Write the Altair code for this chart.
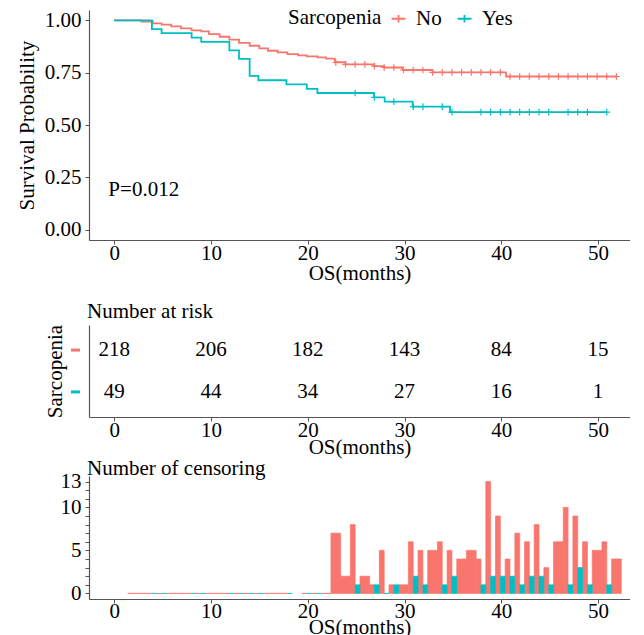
import altair as alt
import pandas as pd

FONT = "Liberation Serif"
FS = 21
groups = ["No", "Yes"]
colors = ["#F8766D", "#00BFC4"]

# Kaplan-Meier step change points (time, survival)
no_times = [0, 2.8, 4.0, 4.9, 5.9, 6.9, 8.0, 9.0, 9.8, 10.9, 11.9, 12.9, 14.0, 15.0, 15.9,
            16.9, 17.9, 19.0, 19.9, 21.0, 21.9, 22.8, 23.9, 26.8, 27.9, 29.8, 32.9, 40.5, 51.9]
no_surv = [1.0, 0.995, 0.986, 0.980, 0.972, 0.962, 0.953, 0.948, 0.935, 0.922, 0.908, 0.893,
           0.879, 0.866, 0.855, 0.847, 0.839, 0.833, 0.828, 0.823, 0.817, 0.800, 0.790, 0.782,
           0.775, 0.763, 0.752, 0.732, 0.732]
yes_times = [0, 3.9, 4.9, 8.0, 9.0, 11.9, 12.9, 14.0, 14.9, 17.8, 19.9, 21.0, 26.85, 27.95,
             30.85, 34.7, 50.9]
yes_surv = [1.0, 0.959, 0.939, 0.918, 0.898, 0.857, 0.816, 0.735, 0.714, 0.694, 0.673, 0.653,
            0.632, 0.612, 0.588, 0.562, 0.562]

# censoring times (crosses on the curves)
no_cens_times = [22.9, 23.9, 24.9, 25.9, 26.9, 27.9, 28.9, 29.9, 30.9, 31.9, 32.9, 33.9, 34.9,
                 35.9, 36.9, 37.9, 38.9, 39.9, 40.9, 41.9, 42.9, 43.9, 44.9, 45.9, 46.9, 47.9,
                 48.9, 49.9, 50.9, 51.9]
yes_cens_times = [24.9, 26.9, 28.9, 30.9, 31.9, 33.9, 34.9, 37.9, 38.9, 39.9, 40.9, 41.9, 42.9,
                  43.9, 44.9, 46.9, 47.9, 48.9, 50.9]

# number at risk
risk_times = [0, 10, 20, 30, 40, 50]
risk_no = [218, 206, 182, 143, 84, 15]
risk_yes = [49, 44, 34, 27, 16, 1]

# number of censoring per time
no_ncens_time = [1.9, 2.9, 3.9, 4.9, 5.9, 6.9, 7.9, 8.9, 9.9, 10.9, 11.9, 12.9, 13.9, 14.9, 15.9,
                 16.9, 17.9, 19.9, 20.9, 21.9, 22.9, 23.9, 24.9, 25.9, 26.9, 27.9, 28.9, 29.9,
                 30.9, 31.9, 32.9, 33.9, 34.9, 35.9, 36.9, 37.9, 38.9, 39.9, 40.9, 41.9, 42.9,
                 43.9, 44.9, 45.9, 46.9, 47.9, 48.9, 49.9, 50.9, 51.9]
no_ncens = [0, 0, 0, 0, 0, 0, 0, 0, 0, 0, 0, 0, 0, 0, 0, 0, 0, 0, 0, 0,
            7, 2, 8, 2, 1, 5, 1, 1, 6, 5, 5, 6, 5, 4, 5, 4, 13, 9, 4, 7, 6, 8, 3, 6, 10, 9, 6, 5, 6, 4]
yes_ncens_time = [3.9, 4.9, 7.9, 8.9, 11.9, 12.9, 13.9, 14.9, 17.9, 19.9, 20.9, 24.9, 26.9, 27.9,
                  28.9, 30.9, 31.9, 33.9, 34.9, 37.9, 38.9, 39.9, 40.9, 41.9, 42.9, 43.9, 44.9,
                  46.9, 47.9, 48.9, 50.9]
yes_ncens = [0, 0, 0, 0, 0, 0, 0, 0, 0, 0, 0,
             1, 1, 0, 1, 2, 1, 1, 2, 1, 2, 2, 2, 1, 2, 2, 1, 1, 3, 1, 1]

XDOM = [-2.6, 53.3]
color_scale = alt.Scale(domain=groups, range=colors)


def step_lookup(times, surv, t):
    s = surv[0]
    for ti, si in zip(times, surv):
        if ti <= t:
            s = si
    return s


curve = pd.DataFrame(
    [{"time": t, "surv": s, "group": "No"} for t, s in zip(no_times, no_surv)]
    + [{"time": t, "surv": s, "group": "Yes"} for t, s in zip(yes_times, yes_surv)]
)
cens = pd.DataFrame(
    [{"time": t, "surv": step_lookup(no_times, no_surv, t), "group": "No"} for t in no_cens_times]
    + [{"time": t, "surv": step_lookup(yes_times, yes_surv, t), "group": "Yes"} for t in yes_cens_times]
)
risk = pd.DataFrame(
    [{"time": t, "n": n, "group": "No"} for t, n in zip(risk_times, risk_no)]
    + [{"time": t, "n": n, "group": "Yes"} for t, n in zip(risk_times, risk_yes)]
)

# dodge bars that share a time
yes_set = set(yes_ncens_time)
no_set = set(no_ncens_time)
rows = []
for t, n in zip(no_ncens_time, no_ncens):
    if t in yes_set:
        rows.append({"x0": t - 0.5, "x1": t, "n": n, "group": "No", "o": 0})
    else:
        rows.append({"x0": t - 0.5, "x1": t + 0.5, "n": n, "group": "No", "o": 0})
for t, n in zip(yes_ncens_time, yes_ncens):
    if t in no_set:
        rows.append({"x0": t, "x1": t + 0.5, "n": n, "group": "Yes", "o": 1})
    else:
        rows.append({"x0": t - 0.5, "x1": t + 0.5, "n": n, "group": "Yes", "o": 1})
ncens = pd.DataFrame(rows)
ncens["zero"] = 0

W = 541
TICKS = [0, 10, 20, 30, 40, 50]
xaxis = alt.Axis(values=TICKS, title="OS(months)", grid=False, labelPadding=-2, titlePadding=-1)
xaxis_risk = alt.Axis(values=TICKS, title="OS(months)", grid=False, labelPadding=-2, titlePadding=-4)
xaxis_cens = alt.Axis(values=TICKS, title="OS(months)", grid=False, labelPadding=-3, titlePadding=-5)
xscale = alt.Scale(domain=XDOM, nice=False, zero=False)

lines = alt.Chart(curve).mark_line(interpolate="step-after", strokeWidth=1.8).encode(
    x=alt.X("time:Q", scale=xscale, axis=xaxis),
    y=alt.Y("surv:Q", scale=alt.Scale(domain=[-0.05, 1.05], nice=False, zero=False),
            axis=alt.Axis(values=[0, 0.25, 0.5, 0.75, 1.0], format=".2f",
                          title="Survival Probability", grid=False, titlePadding=7)),
    color=alt.Color("group:N", scale=color_scale,
                    legend=alt.Legend(orient="none", legendX=199, legendY=-2,
                                      direction="horizontal", titleOrient="left",
                                      title="Sarcopenia", titleFont=FONT, titleFontSize=FS,
                                      titleFontWeight="normal", titleColor="black",
                                      labelFont=FONT, labelFontSize=FS, labelColor="black",
                                      symbolType="M-1,0L1,0M0,-0.55L0,0.55", symbolSize=196,
                                      symbolStrokeWidth=1.8, columnPadding=11,
                                      titlePadding=6, labelOffset=7, titleBaseline="middle")),
)
points = alt.Chart(cens).mark_point(shape="M-1,0L1,0M0,-1L0,1", size=45, strokeWidth=1.2,
                                    filled=False, opacity=1).encode(
    x="time:Q", y="surv:Q",
    color=alt.Color("group:N", scale=color_scale, legend=None),
)
ptext = alt.Chart(pd.DataFrame({"label": ["P=0.012"]})).mark_text(
    align="left", baseline="middle", font=FONT, fontSize=FS, color="black").encode(
    x=alt.datum(-0.6), y=alt.datum(0.19), text="label:N")

top = alt.layer(lines, points, ptext).properties(width=W, height=230)

risk_text = alt.Chart(risk).mark_text(font=FONT, fontSize=FS, color="black").encode(
    x=alt.X("time:Q", scale=xscale, axis=xaxis_risk),
    y=alt.Y("group:N", scale=alt.Scale(type="point", domain=groups, padding=0.6),
            axis=alt.Axis(labels=False, ticks=False, title="Sarcopenia", titlePadding=24)),
    text="n:Q",
)
risk_dash = alt.Chart(pd.DataFrame({"group": groups})).mark_rule(strokeWidth=3).encode(
    x=alt.value(-18), x2=alt.value(-9),
    y=alt.Y("group:N"),
    color=alt.Color("group:N", scale=color_scale, legend=None),
)
risk_chart = alt.layer(risk_text, risk_dash).properties(
    width=W, height=92,
    title=alt.Title("Number at risk", anchor="start", frame="group", font=FONT, fontSize=FS,
                    fontWeight="normal", color="black", offset=2, dx=-2))

bars = alt.Chart(ncens).mark_rect(strokeWidth=0.7).encode(
    x=alt.X("x0:Q", scale=xscale, axis=xaxis_cens),
    x2="x1:Q",
    y=alt.Y("zero:Q", scale=alt.Scale(domain=[-0.65, 13.65], nice=False, zero=False),
            axis=alt.Axis(values=list(range(0, 14)), grid=False, title=None,
                          labelExpr="indexof([0,5,10,13], datum.value) >= 0 ? datum.label : ''")),
    y2="n:Q",
    color=alt.Color("group:N", scale=color_scale, legend=None),
    stroke=alt.Color("group:N", scale=color_scale, legend=None),
    order="o:Q",
)
cens_chart = bars.properties(
    width=W, height=123,
    title=alt.Title("Number of censoring", anchor="start", frame="group", font=FONT, fontSize=FS,
                    fontWeight="normal", color="black", offset=-8, dx=-2))

upper = alt.vconcat(top, risk_chart, spacing=18)
chart = alt.vconcat(upper, cens_chart, spacing=0).properties(
    padding={"left": 8, "top": 0, "right": 0, "bottom": 0}
).configure_view(stroke=None).configure_axis(
    labelFont=FONT, labelFontSize=FS, labelColor="black",
    titleFont=FONT, titleFontSize=FS, titleFontWeight="normal", titleColor="black",
    domainColor="#555555", tickColor="#555555", domainWidth=1.2, tickSize=4,
    labelPadding=3, titlePadding=0, grid=False,
).configure_axisY(labelPadding=4)

chart.save("out.html", embed_options={"renderer": "svg", "actions": False})
